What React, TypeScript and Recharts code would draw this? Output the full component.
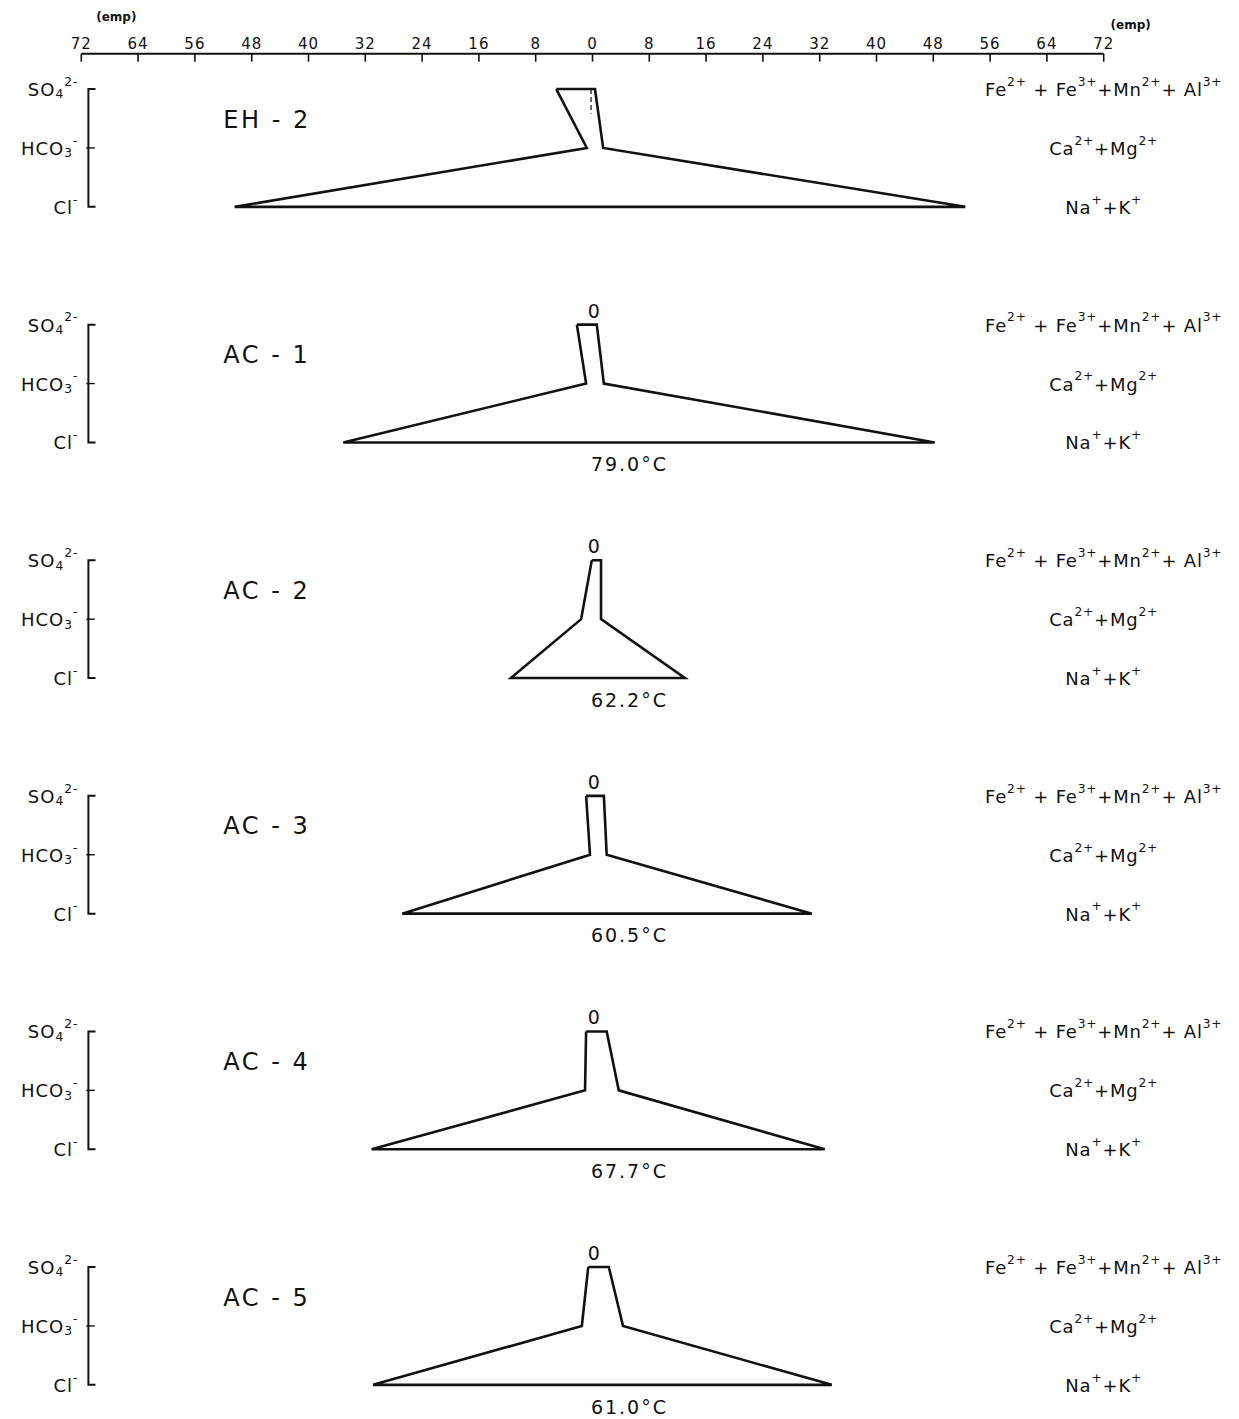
import React from 'react';
import { ScatterChart, Scatter, XAxis, YAxis } from 'recharts';

// Stiff diagrams (meq/l) for six wells, anions to the left, cations to the right
const sampleNames = ['EH - 2', 'AC - 1', 'AC - 2', 'AC - 3', 'AC - 4', 'AC - 5'];
const so4 = [5.1, 2.2, 0.1, 0.9, 0.9, 0.6];
const hco3 = [0.8, 0.9, 1.6, 0.35, 1.05, 1.5];
const cl = [50.4, 35.1, 11.5, 26.8, 31.1, 30.9];
const feMnAl = [0.35, 0.6, 1.2, 1.6, 2.0, 2.3];
const caMg = [1.5, 1.6, 1.2, 2.0, 3.7, 4.3];
const naK = [52.5, 48.2, 13.0, 30.9, 32.7, 33.7];
const temperatures = ['', '79.0°C', '62.2°C', '60.5°C', '67.7°C', '61.0°C'];
const showZeroMark = [false, true, true, true, true, true];

const scaleTicks = [-72, -64, -56, -48, -40, -32, -24, -16, -8, 0, 8, 16, 24, 32, 40, 48, 56, 64, 72];

type Part = { t: string; s?: 'sup' | 'sub' };
const anionLabels: Part[][] = [
  [{ t: 'SO' }, { t: '4', s: 'sub' }, { t: '2-', s: 'sup' }],
  [{ t: 'HCO' }, { t: '3', s: 'sub' }, { t: '-', s: 'sup' }],
  [{ t: 'Cl' }, { t: '-', s: 'sup' }],
];
const cationLabels: Part[][] = [
  [
    { t: 'Fe' }, { t: '2+', s: 'sup' }, { t: ' + Fe' }, { t: '3+', s: 'sup' },
    { t: '+Mn' }, { t: '2+', s: 'sup' }, { t: '+ Al' }, { t: '3+', s: 'sup' },
  ],
  [{ t: 'Ca' }, { t: '2+', s: 'sup' }, { t: '+Mg' }, { t: '2+', s: 'sup' }],
  [{ t: 'Na' }, { t: '+', s: 'sup' }, { t: '+K' }, { t: '+', s: 'sup' }],
];

const ROWS_PER_PANEL = 4;
const BRACKET_X = -71;
const INK = '#111';
const FONT = '"DejaVu Sans", sans-serif';

const rowY = (p: number, r: number) => p * ROWS_PER_PANEL + r;

function RichText({ x, y, parts, size, anchor, spacing }: any) {
  let offset = 0;
  const spans = parts.map((part: Part, i: number) => {
    const target = part.s === 'sup' ? -0.4 * size : part.s === 'sub' ? 0.3 * size : 0;
    const dy = target - offset;
    offset = target;
    return (
      <tspan key={i} dy={dy} fontSize={part.s ? size * 0.68 : size}>
        {part.t}
      </tspan>
    );
  });
  return (
    <text
      x={x}
      y={y}
      textAnchor={anchor}
      dominantBaseline="central"
      fontFamily={FONT}
      fill={INK}
      letterSpacing={spacing}
    >
      {spans}
    </text>
  );
}

const AxisTick = (props: any) => {
  const { x, y, payload } = props;
  const v = payload.value as number;
  return (
    <g>
      <line x1={x} x2={x} y1={y} y2={y + 8} stroke={INK} strokeWidth={1.6} />
      <text x={x} y={y - 5} textAnchor="middle" fontSize={15} fontFamily={FONT} fill={INK} letterSpacing={1}>
        {Math.abs(v)}
      </text>
      {v === -72 && (
        <text x={x + 35} y={y - 33} textAnchor="middle" fontSize={12} fontWeight="bold" fontFamily={FONT} fill={INK}>
          (emp)
        </text>
      )}
      {v === 72 && (
        <text x={x + 27} y={y - 25} textAnchor="middle" fontSize={12} fontWeight="bold" fontFamily={FONT} fill={INK}>
          (emp)
        </text>
      )}
    </g>
  );
};

const noDot = () => <g />;

export default function App() {
  const polygons = sampleNames.map((_, p) => [
    { x: -so4[p], y: rowY(p, 0) },
    { x: feMnAl[p], y: rowY(p, 0) },
    { x: caMg[p], y: rowY(p, 1) },
    { x: naK[p], y: rowY(p, 2) },
    { x: -cl[p], y: rowY(p, 2) },
    { x: -hco3[p], y: rowY(p, 1) },
    { x: -so4[p], y: rowY(p, 0) },
  ]);

  const brackets = sampleNames.map((_, p) => [
    { x: BRACKET_X + 1, y: rowY(p, 0) },
    { x: BRACKET_X, y: rowY(p, 0) },
    { x: BRACKET_X, y: rowY(p, 2) },
    { x: BRACKET_X + 1, y: rowY(p, 2) },
  ]);
  const midTicks = sampleNames.map((_, p) => [
    { x: BRACKET_X - 0.3, y: rowY(p, 1) },
    { x: BRACKET_X + 0.9, y: rowY(p, 1) },
  ]);

  const anionTextData = sampleNames.flatMap((_, p) =>
    anionLabels.map((parts, r) => ({ x: BRACKET_X, y: rowY(p, r), parts }))
  );
  const cationTextData = sampleNames.flatMap((_, p) =>
    cationLabels.map((parts, r) => ({ x: 72, y: rowY(p, r), parts }))
  );
  const titleData = sampleNames.map((name, p) => ({ x: -52, y: rowY(p, 0.52), name }));
  const zeroData = sampleNames
    .map((_, p) => ({ x: 0.2, y: rowY(p, -0.24), show: showZeroMark[p] }))
    .filter((d) => d.show);
  const tempData = sampleNames
    .map((_, p) => ({ x: 5.2, y: rowY(p, 2.37), label: temperatures[p] }))
    .filter((d) => d.label);
  const zeroGuide = [
    { x: -0.2, y: rowY(0, 0) },
    { x: -0.2, y: rowY(0, 0.42) },
  ];

  return (
    <div style={{ position: 'absolute', left: 0, top: 0, width: 1239, height: 1419, background: '#fff' }}>
      <ScatterChart
        width={1239}
        height={1419}
        margin={{ top: 23.7, right: 135.3, bottom: 4.7, left: 81.3 }}
      >
        <XAxis
          type="number"
          dataKey="x"
          orientation="top"
          domain={[-72, 72]}
          ticks={scaleTicks}
          interval={0}
          height={30}
          tickSize={0}
          tickMargin={0}
          tickLine={false}
          axisLine={{ stroke: INK, strokeWidth: 2 }}
          tick={<AxisTick />}
        />
        <YAxis type="number" dataKey="y" domain={[-0.6, 22.5]} reversed hide />

        {polygons.map((pts, p) => (
          <Scatter
            key={`poly-${p}`}
            data={pts}
            line={{ stroke: INK, strokeWidth: 2.6 }}
            lineType="joint"
            shape={noDot}
            fill="none"
            stroke={INK}
            isAnimationActive={false}
          />
        ))}
        {brackets.map((pts, p) => (
          <Scatter
            key={`br-${p}`}
            data={pts}
            line={{ stroke: INK, strokeWidth: 2 }}
            lineType="joint"
            shape={noDot}
            fill="none"
            stroke={INK}
            isAnimationActive={false}
          />
        ))}
        {midTicks.map((pts, p) => (
          <Scatter
            key={`mt-${p}`}
            data={pts}
            line={{ stroke: INK, strokeWidth: 1.4 }}
            lineType="joint"
            shape={noDot}
            fill="none"
            stroke={INK}
            isAnimationActive={false}
          />
        ))}
        <Scatter
          data={zeroGuide}
          line={{ stroke: INK, strokeWidth: 1.2, strokeDasharray: '5 3' }}
          lineType="joint"
          shape={noDot}
          fill="none"
          stroke={INK}
          isAnimationActive={false}
        />

        <Scatter
          data={anionTextData}
          isAnimationActive={false}
          shape={(s: any) => (
            <RichText x={s.cx - 10} y={s.cy} parts={s.payload.parts} size={18} anchor="end" spacing={1} />
          )}
        />
        <Scatter
          data={cationTextData}
          isAnimationActive={false}
          shape={(s: any) => (
            <RichText x={s.cx} y={s.cy} parts={s.payload.parts} size={18} anchor="middle" spacing={0.8} />
          )}
        />
        <Scatter
          data={titleData}
          isAnimationActive={false}
          shape={(s: any) => (
            <text
              x={s.cx}
              y={s.cy}
              dominantBaseline="central"
              fontSize={24}
              letterSpacing={2.5}
              fontFamily={FONT}
              fill={INK}
            >
              {s.payload.name}
            </text>
          )}
        />
        <Scatter
          data={zeroData}
          isAnimationActive={false}
          shape={(s: any) => (
            <text x={s.cx} y={s.cy} textAnchor="middle" dominantBaseline="central" fontSize={19} fontFamily={FONT} fill={INK}>
              0
            </text>
          )}
        />
        <Scatter
          data={tempData}
          isAnimationActive={false}
          shape={(s: any) => (
            <text
              x={s.cx}
              y={s.cy}
              textAnchor="middle"
              dominantBaseline="central"
              fontSize={19}
              letterSpacing={2}
              fontFamily={FONT}
              fill={INK}
            >
              {s.payload.label}
            </text>
          )}
        />
      </ScatterChart>
    </div>
  );
}
